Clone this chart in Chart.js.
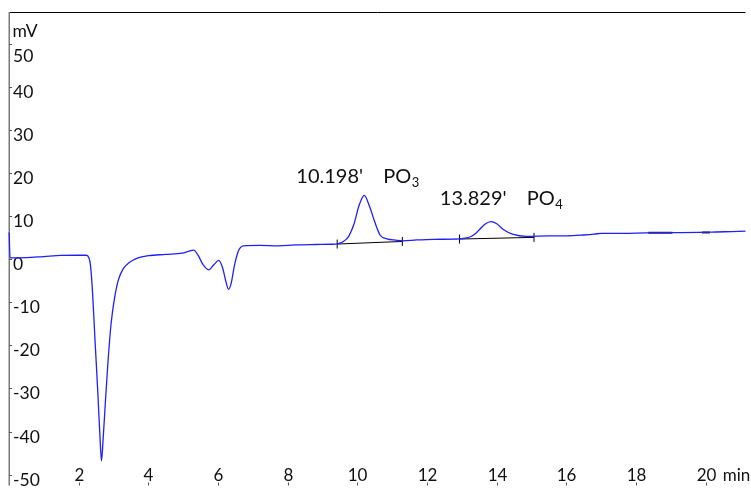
<!DOCTYPE html>
<html>
<head>
<meta charset="utf-8">
<script src="https://cdn.jsdelivr.net/npm/chart.js@4.4.0/dist/chart.umd.min.js"></script>
<style>
  html, body { margin: 0; padding: 0; background: #fff; overflow: hidden; }
  #wrap { width: 751px; height: 491px; }
</style>
</head>
<body>
<div id="wrap"><canvas id="chrom" width="751" height="491"></canvas></div>
<script>
// Chromatogram trace: retention time (min) and detector signal (mV)
const retentionTime = [
  0.005, 0.03, 0.5, 1.0, 1.5, 2.0, 2.22, 2.29, 2.34, 2.40, 2.47, 2.55, 2.61, 2.655,
  2.70, 2.76, 2.84, 2.93, 3.03, 3.14, 3.28, 3.45, 3.70, 4.0, 4.5, 4.97, 5.15, 5.3,
  5.42, 5.57, 5.73, 5.88, 6.02, 6.13, 6.22, 6.30, 6.38, 6.47, 6.59, 6.73, 7.2, 7.73,
  8.2, 8.8, 9.24, 9.42, 9.6, 9.75, 9.9, 10.05, 10.198, 10.35, 10.5, 10.65, 10.85,
  11.1, 11.3, 11.7, 12.2, 12.93, 13.1, 13.25, 13.4, 13.52, 13.66, 13.829, 14.0, 14.2,
  14.45, 14.85, 15.5, 16.0, 16.5, 16.8, 17.0, 17.6, 18.3, 19.0, 19.8, 20.3, 20.74, 21.2
];
const signal = [
  6.2, 0.3, 0.35, 0.6, 0.85, 0.9, 0.9, 0.4, -1.5, -8, -19, -31, -41, -46.8,
  -42, -34, -24, -15, -9, -4.8, -2.2, -0.8, 0.3, 0.8, 1.1, 1.4, 1.8, 2.1,
  1.0, -1.3, -2.5, -1.3, -0.3, -2.0, -5.0, -7.0, -5.5, -1.5, 2.0, 3.1, 3.2, 3.1,
  3.3, 3.4, 3.45, 3.55, 4.1, 5.3, 8.1, 12.5, 14.8, 12.2, 8.6, 5.6, 4.7,
  4.4, 4.25, 4.45, 4.6, 4.7, 4.9, 5.2, 6.0, 7.0, 8.1, 8.7, 8.2, 6.8,
  5.8, 5.3, 5.4, 5.4, 5.6, 5.8, 6.0, 6.0, 6.1, 6.15, 6.2, 6.3, 6.4, 6.5
];

// Integration baselines of the two identified peaks
const po3BaseTime = [9.42, 11.29];
const po3BaseSignal = [3.5, 4.1];
const po4BaseTime = [12.93, 15.07];
const po4BaseSignal = [4.66, 5.05];

// Short baselines of minor integrated peaks near the end of the run
const minorBase1Time = [18.35, 19.04];
const minorBase1Signal = [6.1, 6.1];
const minorBase2Time = [19.89, 20.12];
const minorBase2Signal = [6.2, 6.2];

// Peak annotations
const peakTimes = [10.198, 13.829];
const peakHeights = [14.8, 8.7];
const peakTimeLabels = ["10.198'", "13.829'"];
const peakIons = ['PO', 'PO'];
const peakIonSubscripts = ['3', '4'];

// Axis ticks
const yTickValues = [50, 40, 30, 20, 10, 0, -10, -20, -30, -40, -50];
const xTickValues = [2, 4, 6, 8, 10, 12, 14, 16, 18, 20];
const yAxisUnit = 'mV';
const xAxisUnit = 'min';

const toPoints = (ts, vs) => ts.map((t, i) => ({ x: t, y: vs[i] }));

const FONT = 'Lato, "Open Sans", sans-serif';
const TEXT = '#111';

// Axis frame, tick marks and tick labels, drawn under the trace
const chromAxes = {
  id: 'chromAxes',
  beforeDatasetsDraw(chart) {
    const { ctx, chartArea: a, scales: { x, y } } = chart;
    ctx.save();
    // top frame line
    ctx.strokeStyle = '#000';
    ctx.lineWidth = 1;
    ctx.beginPath();
    ctx.moveTo(a.left, a.top + 0.5);
    ctx.lineTo(a.right, a.top + 0.5);
    ctx.stroke();
    // left signal axis
    ctx.strokeStyle = '#7a7a7a';
    ctx.lineWidth = 1.5;
    ctx.beginPath();
    ctx.moveTo(a.left + 0.25, a.top);
    ctx.lineTo(a.left + 0.25, a.bottom);
    ctx.stroke();

    ctx.fillStyle = TEXT;
    ctx.font = '17.5px ' + FONT;
    ctx.textAlign = 'left';
    ctx.textBaseline = 'alphabetic';
    ctx.lineWidth = 1;
    ctx.strokeStyle = '#555';
    yTickValues.forEach(v => {
      const py = Math.round(y.getPixelForValue(v)) + 0.5;
      ctx.beginPath();
      ctx.moveTo(a.left, py);
      ctx.lineTo(a.left + 3, py);
      ctx.stroke();
      // the top label is pushed down clear of the unit label
      ctx.fillText(String(v), a.left + 4, py + (v === 50 ? 17 : 10));
    });
    ctx.fillText(yAxisUnit, a.left + 3.5, a.top + 24.5);

    // time axis: labels sit just above the tick marks at the lower edge
    ctx.font = '17px ' + FONT;
    ctx.textAlign = 'center';
    xTickValues.forEach(t => {
      const px = Math.round(x.getPixelForValue(t)) + 0.5;
      ctx.beginPath();
      ctx.moveTo(px, a.bottom - 3);
      ctx.lineTo(px, a.bottom);
      ctx.stroke();
      ctx.fillText(String(t), px, a.bottom - 5);
    });
    ctx.textAlign = 'left';
    ctx.fillText(xAxisUnit, x.getPixelForValue(20) + 17, a.bottom - 5);
    ctx.restore();
  },
  afterDatasetsDraw(chart) {
    const { ctx, scales: { x, y } } = chart;
    // label layout relative to each apex: [number left dx, ion left dx, baseline dy]
    const layout = [[-68, 19, -12.5], [-51, 36, -16.5]];
    ctx.save();
    ctx.fillStyle = TEXT;
    ctx.textBaseline = 'alphabetic';
    ctx.textAlign = 'left';
    peakTimes.forEach((t, i) => {
      const ax = x.getPixelForValue(t);
      const ay = y.getPixelForValue(peakHeights[i]);
      const [dNum, dIon, dY] = layout[i];
      const by = ay + dY;
      ctx.font = '20px ' + FONT;
      ctx.fillText(peakTimeLabels[i], ax + dNum, by);
      const ionX = ax + dIon;
      ctx.fillText(peakIons[i], ionX, by);
      const w = ctx.measureText(peakIons[i]).width;
      ctx.font = '13px ' + FONT;
      ctx.fillText(peakIonSubscripts[i], ionX + w + 0.5, by + 4);
    });
    ctx.restore();
  }
};

const baselineStyle = {
  borderColor: '#000',
  borderWidth: 1,
  pointStyle: 'line',
  rotation: 90,
  pointRadius: 4.5,
  pointBorderColor: '#000',
  pointBorderWidth: 1,
  tension: 0,
  order: 2
};
const minorStyle = {
  borderColor: '#2a2a2a',
  borderWidth: 2,
  pointRadius: 0,
  tension: 0,
  order: 2
};

new Chart(document.getElementById('chrom'), {
  type: 'line',
  data: {
    datasets: [
      {
        label: 'Signal',
        data: toPoints(retentionTime, signal),
        borderColor: '#1f1fff',
        borderWidth: 1.3,
        pointRadius: 0,
        cubicInterpolationMode: 'monotone',
        clip: { left: 2, top: 0, right: 0, bottom: 0 },
        order: 1
      },
      Object.assign({ label: 'PO3 baseline', data: toPoints(po3BaseTime, po3BaseSignal) }, baselineStyle),
      Object.assign({ label: 'PO4 baseline', data: toPoints(po4BaseTime, po4BaseSignal) }, baselineStyle),
      Object.assign({ label: 'minor 1', data: toPoints(minorBase1Time, minorBase1Signal) }, minorStyle),
      Object.assign({ label: 'minor 2', data: toPoints(minorBase2Time, minorBase2Signal) }, minorStyle)
    ]
  },
  options: {
    responsive: false,
    animation: false,
    devicePixelRatio: 1,
    layout: { padding: { left: 9, top: 12, right: 0, bottom: 0 } },
    plugins: { legend: { display: false }, tooltip: { enabled: false } },
    scales: {
      x: { type: 'linear', min: 0, max: 21.14, display: false },
      y: { type: 'linear', min: -52.52, max: 57.34, display: false }
    }
  },
  plugins: [chromAxes]
});
</script>
</body>
</html>
